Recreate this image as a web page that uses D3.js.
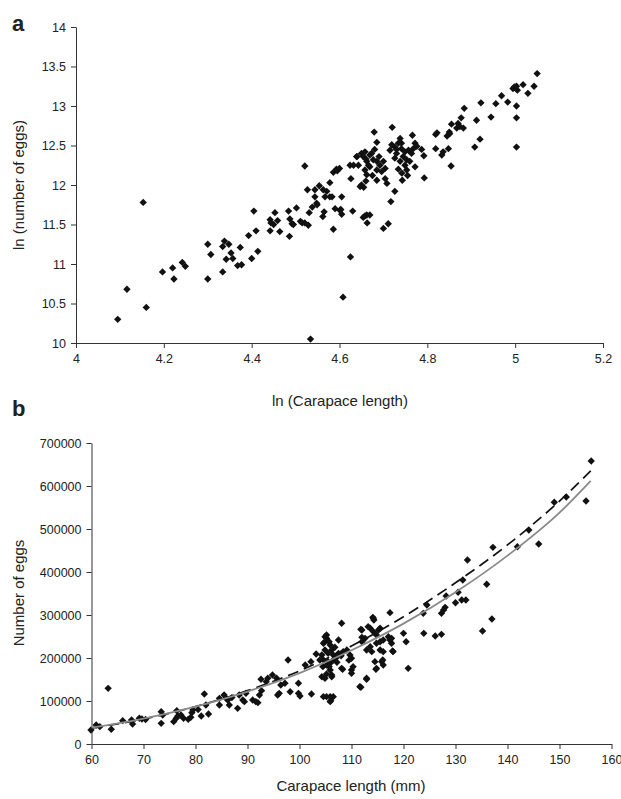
<!DOCTYPE html>
<html>
<head>
<meta charset="utf-8">
<script src="https://cdn.jsdelivr.net/npm/d3@7/dist/d3.min.js"></script>
<style>
  html, body { margin: 0; padding: 0; background: #fff; }
  svg { display: block; }
  text { font-family: "Liberation Sans", Arial, Helvetica, sans-serif; fill: #222; }
</style>
</head>
<body>
<svg id="chart" width="621" height="799"></svg>
<script>
// ---------- Panel a: ln(Carapace length) vs ln(number of eggs) ----------
const panelAPoints = [
  [4.095,10.30],[4.116,10.68],[4.153,11.78],[4.160,10.45],[4.197,10.90],[4.220,10.95],[4.223,10.81],[4.242,11.02],[4.249,10.97],
  [4.300,11.25],[4.300,10.81],[4.307,11.12],[4.334,11.22],[4.338,11.29],[4.348,11.25],[4.334,10.90],[4.342,11.06],[4.353,11.14],
  [4.357,11.07],[4.368,10.98],[4.377,10.99],[4.374,11.21],[4.393,11.36],[4.400,11.07],[4.405,11.67],[4.410,11.42],[4.414,11.16],
  [4.442,11.56],[4.444,11.52],[4.442,11.42],[4.450,11.50],[4.453,11.65],[4.459,11.55],[4.464,11.41],[4.484,11.67],[4.487,11.57],
  [4.486,11.35],[4.492,11.51],[4.495,11.50],[4.502,11.71],[4.511,11.54],[4.515,11.52],[4.521,12.24],[4.521,11.52],[4.527,11.94],
  [4.529,11.49],[4.531,11.65],[4.534,10.05],[4.538,11.72],[4.544,11.94],[4.544,11.85],[4.548,11.77],[4.549,11.75],[4.554,11.99],
  [4.563,11.94],[4.562,11.60],[4.565,11.66],[4.567,11.85],[4.571,11.92],[4.578,12.03],[4.578,11.85],[4.583,11.85],[4.586,12.16],
  [4.586,11.44],[4.590,11.70],[4.593,12.20],[4.595,12.18],[4.600,12.21],[4.601,11.68],[4.605,11.85],[4.603,11.69],[4.605,11.63],
  [4.608,10.58],[4.625,11.09],[4.630,11.67],[4.626,12.08],[4.624,12.25],[4.632,12.25],[4.640,12.36],[4.647,11.98],[4.650,12.00],
  [4.655,11.97],[4.654,11.59],[4.658,11.61],[4.662,11.62],[4.669,11.62],[4.663,11.52],[4.700,11.45],[4.711,11.51],[4.717,11.79],
  [4.726,11.92],
  [4.679,12.67],[4.685,12.54],[4.658,12.42],[4.669,12.38],[4.654,12.36],[4.677,12.32],[4.662,12.30],[4.685,12.30],[4.692,12.25],
  [4.700,12.30],[4.669,12.23],[4.658,12.19],[4.685,12.19],[4.696,12.17],[4.704,12.21],[4.673,12.40],[4.650,12.40],[4.666,12.25],
  [4.639,12.36],[4.643,12.25],[4.662,12.13],[4.685,12.06],[4.704,12.08],[4.708,12.02],[4.660,12.05],[4.675,12.12],[4.690,12.36],
  [4.680,12.45],[4.660,12.33],
  [4.720,12.73],[4.715,12.44],[4.726,12.48],[4.734,12.53],[4.741,12.46],[4.749,12.42],[4.730,12.40],[4.745,12.36],[4.753,12.32],
  [4.726,12.34],[4.738,12.30],[4.757,12.44],[4.764,12.40],[4.768,12.46],[4.749,12.25],[4.753,12.19],[4.742,12.15],[4.743,12.06],
  [4.734,12.20],[4.719,12.51],[4.738,12.59],[4.741,12.53],[4.766,12.63],[4.772,12.53],[4.776,12.49],[4.787,12.45],[4.792,12.37],
  [4.793,12.09],[4.755,12.12],[4.772,12.23],[4.730,12.45],[4.760,12.30],
  [4.819,12.64],[4.822,12.66],[4.819,12.46],[4.836,12.42],[4.833,12.38],[4.848,12.46],[4.845,12.62],[4.851,12.65],[4.850,12.67],
  [4.855,12.77],[4.854,12.24],[4.867,12.72],[4.870,12.78],[4.874,12.74],[4.882,12.72],[4.877,12.85],[4.884,12.97],[4.908,12.48],
  [4.912,12.82],[4.920,12.58],[4.922,13.04],[4.945,12.86],[4.956,13.03],[4.969,13.13],[4.983,13.05],[4.995,13.22],[4.998,13.24],
  [5.003,13.25],[5.005,13.20],[5.003,13.00],[5.003,12.85],[5.003,12.48],[5.018,13.27],[5.029,13.16],[5.043,13.25],[5.050,13.41]
];
const panelAXTicks = [4, 4.2, 4.4, 4.6, 4.8, 5, 5.2];
const panelAYTicks = [10, 10.5, 11, 11.5, 12, 12.5, 13, 13.5, 14];

// ---------- Panel b: Carapace length (mm) vs Number of eggs ----------
const panelBPoints = [
  [59.9,32600],[60.9,44200],[61.6,40300],[63.2,129500],[63.8,34200],[66.0,54200],[67.7,55800],[67.9,46500],[69.2,59800],
  [69.7,58100],[70.4,57000],[73.4,75100],[73.4,48100],[73.7,67400],[75.8,51900],[76.3,59800],[76.6,65100],[77.2,67400],
  [77.7,59800],[76.4,77400],[78.6,57400],[79.1,62100],[79.3,72800],[79.5,79100],[81.1,65100],[81.7,116300],[82.0,90700],
  [82.5,69800],[80.5,80000],[84.6,90700],[84.6,106200],[85.5,114000],[85.9,106200],[86.5,90700],[86.2,102300],[87.0,108000],
  [88.1,83000],[88.4,114000],[89.1,102300],[89.4,98400],[89.7,117900],[91.0,102300],[91.6,98400],[92.0,96100],[92.3,114000],
  [92.7,124000],[92.6,150500],[93.6,144900],[93.9,152800],[94.8,160500],[95.6,152800],[95.8,114000],[96.1,117900],[96.4,137200],
  [97.2,141200],[97.8,195300],[98.2,121600],[99.8,141200],[99.8,117900],[100.1,111600],[101.1,183700],[102.2,191400],[102.3,116300],
  [103.2,209300],[104.3,207000],[104.6,195300],[104.9,218600],[104.9,237900],[105.2,245800],[105.7,237900],[105.9,230200],
  [106.2,218600],[106.5,207000],[106.5,195300],[105.5,191400],[103.9,195300],[104.5,179800],[105.2,183700],[105.9,187700],
  [107.5,241900],[108.1,280700],[108.4,214700],[109.1,218600],[109.7,207000],[110.0,199300],[107.5,210900],[105.9,172100],
  [106.2,160500],[104.3,156500],[104.9,152800],[105.9,110000],[105.2,110000],[106.5,110000],[104.6,110000],[105.9,98400],
  [108.1,176000],[110.0,172100],[110.3,179800],[110.0,164400],[111.6,133300],[112.9,152800],[112.0,265100],[113.2,272800],
  [114.1,294600],[114.3,288400],[114.2,261200],[115.2,265100],[115.5,269100],[114.8,253500],[112.6,245800],[112.0,237900],
  [113.6,226300],[112.9,218600],[113.9,214700],[114.8,234200],[115.5,237900],[116.1,241900],[117.1,249500],[117.4,241900],
  [117.7,234200],[115.5,218600],[116.1,214700],[118.0,214700],[114.5,191400],[115.8,191400],[114.8,176000],[116.1,183700],
  [117.4,305400],[120.0,257400],[120.5,237900],[120.9,176000],[123.8,303900],[123.9,257400],[124.5,323300],
  [104.6,234200],[104.9,249500],[105.2,253500],[105.5,210900],[105.7,179800],[105.2,162800],[106.2,156500],[106.0,100700],
  [111.8,266700],[112.0,248100],[113.6,269100],[114.2,292300],[117.7,245800],[117.9,216300],[116.0,195300],[114.7,173700],
  [112.9,150500],[111.8,131900],[108.3,173700],[107.0,200000],[108.0,205000],[106.8,225000],[107.2,190000],[109.5,195000],
  [126.1,251200],[127.3,255100],[128.0,317900],[127.3,303900],[127.7,311600],[128.2,344200],[130.0,328600],[130.5,352800],
  [131.4,381400],[131.2,334900],[132.0,334900],[132.3,427900],[135.2,262800],[136.0,371400],[137.0,290700],[137.2,457400],
  [141.9,458800],[144.1,497700],[146.0,465100],[149.0,562100],[151.3,574400],[155.1,565100],[156.1,658100]
];
const panelBXTicks = [60, 70, 80, 90, 100, 110, 120, 130, 140, 150, 160];
const panelBYTicks = [0, 100000, 200000, 300000, 400000, 500000, 600000, 700000];

// Fitted curves
const curveLengths = [60, 70, 80, 90, 100, 110, 120, 130, 140, 150, 156];
const curveSolid   = [38000, 59000, 87000, 122000, 165000, 218000, 280000, 353000, 438000, 538000, 612000];
const curveDashed  = [37000, 58000, 87000, 124000, 170000, 228000, 296000, 375000, 463000, 565000, 635000];

// ---------- drawing ----------
const svg = d3.select("#chart");
svg.append("rect").attr("width", 621).attr("height", 799).attr("fill", "#fff");

const diamond = d3.symbol().type(d3.symbolSquare).size(27);
const axisColor = "#333";
const tickFont = 12.5;
const titleFont = 15;

function styleAxis(g) {
  g.selectAll("path.domain").attr("stroke", axisColor).attr("stroke-width", 1);
  g.selectAll(".tick line").attr("stroke", axisColor).attr("stroke-width", 1);
  g.selectAll(".tick text").attr("font-size", tickFont).attr("fill", "#222")
    .attr("font-family", "'Liberation Sans', Arial, Helvetica, sans-serif");
}

// Panel a
{
  const x = d3.scaleLinear().domain([4, 5.2]).range([76, 603]);
  const y = d3.scaleLinear().domain([10, 14]).range([343, 27]);
  const gx = svg.append("g").attr("transform", "translate(0,343)")
    .call(d3.axisBottom(x).tickValues(panelAXTicks).tickSize(5).tickSizeOuter(0).tickFormat(d3.format("~g")).tickPadding(6));
  styleAxis(gx);
  const gy = svg.append("g").attr("transform", "translate(76,0)")
    .call(d3.axisLeft(y).tickValues(panelAYTicks).tickSize(5).tickSizeOuter(0).tickFormat(d3.format("~g")).tickPadding(5));
  styleAxis(gy);

  svg.append("g").selectAll("path").data(panelAPoints).join("path")
    .attr("d", diamond)
    .attr("transform", d => `translate(${x(d[0])},${y(d[1])}) rotate(45)`)
    .attr("fill", "#111");

  svg.append("text").attr("x", 340).attr("y", 406).attr("text-anchor", "middle")
    .attr("font-size", titleFont).text("ln (Carapace length)");
  svg.append("text").attr("transform", "translate(24,185) rotate(-90)").attr("text-anchor", "middle")
    .attr("font-size", titleFont).text("ln (number of eggs)");
  svg.append("text").attr("x", 12).attr("y", 31).attr("font-size", 22).attr("font-weight", "bold")
    .attr("fill", "#000").text("a");
}

// Panel b
{
  const x = d3.scaleLinear().domain([60, 160]).range([91.5, 611.5]);
  const y = d3.scaleLinear().domain([0, 700000]).range([744, 443]);
  const gx = svg.append("g").attr("transform", "translate(0,744)")
    .call(d3.axisBottom(x).tickValues(panelBXTicks).tickSize(5).tickSizeOuter(0).tickFormat(d3.format("d")).tickPadding(6));
  styleAxis(gx);
  const gy = svg.append("g").attr("transform", "translate(91.5,0)")
    .call(d3.axisLeft(y).tickValues(panelBYTicks).tickSize(5).tickSizeOuter(0).tickFormat(d3.format("d")).tickPadding(5));
  styleAxis(gy);

  svg.append("g").selectAll("path").data(panelBPoints).join("path")
    .attr("d", diamond)
    .attr("transform", d => `translate(${x(d[0])},${y(d[1])}) rotate(45)`)
    .attr("fill", "#111");

  const solidData = curveLengths.map((v, i) => [v, curveSolid[i]]);
  const dashedData = curveLengths.map((v, i) => [v, curveDashed[i]]);
  const line = d3.line().x(d => x(d[0])).y(d => y(d[1])).curve(d3.curveMonotoneX);
  svg.append("path").datum(dashedData).attr("d", line).attr("fill", "none")
    .attr("stroke", "#111").attr("stroke-width", 1.7).attr("stroke-dasharray", "11,6");
  svg.append("path").datum(solidData).attr("d", line).attr("fill", "none")
    .attr("stroke", "#8a8a8a").attr("stroke-width", 1.8);

  svg.append("text").attr("x", 351).attr("y", 791).attr("text-anchor", "middle")
    .attr("font-size", titleFont).text("Carapace length (mm)");
  svg.append("text").attr("transform", "translate(24,593) rotate(-90)").attr("text-anchor", "middle")
    .attr("font-size", titleFont).text("Number of eggs");
  svg.append("text").attr("x", 12).attr("y", 416).attr("font-size", 22).attr("font-weight", "bold")
    .attr("fill", "#000").text("b");
}
</script>
</body>
</html>
